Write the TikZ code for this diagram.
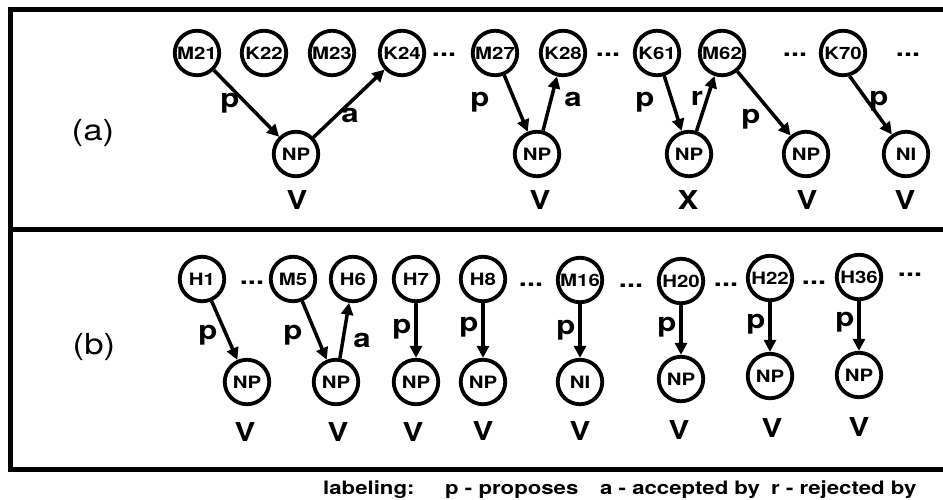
\documentclass[tikz,border=0pt]{standalone}
\usepackage{fontspec}
\setmainfont{TeX Gyre Heros}[FakeStretch=1.2]
\usetikzlibrary{arrows.meta}
\tikzset{
  circ/.style={circle, draw, line width=3.8pt, minimum size=44.5pt, inner sep=0pt,
    font=\fontsize{17}{20}\selectfont\bfseries},
  arr/.style={line width=3.5pt, -{Triangle[length=12pt,width=12pt]}},
  lab/.style={font=\fontsize{26}{30}\selectfont\bfseries, inner sep=0pt},
  dotsn/.style={font=\fontsize{24}{28}\selectfont\bfseries, inner sep=0pt},
  panel/.style={font=\fontsize{29}{34}\selectfont, inner sep=0pt},
  legend/.style={font=\fontsize{18.5}{22}\selectfont\bfseries, inner sep=0pt, anchor=base west},
  frame/.style={line width=4.5pt, line join=miter}
}
\begin{document}
\begin{tikzpicture}[x=1pt,y=-1pt]
\useasboundingbox (0,0) rectangle (943,499);
% frame
\draw[frame] (943,9.5) -- (10.5,9.5) -- (10.5,469.5) -- (943,469.5);
\draw[line width=5.5pt] (10.5,229.5) -- (943,229.5);
% panel labels
\node[panel] (pa) at (93,133) {(a)};
\node[panel] (pb) at (94,347) {(b)};
% ---- panel (a) top row
\node[circ] (M21) at (197,53) {M21};
\node[circ] (K22) at (264,53) {K22};
\node[circ] (M23) at (332,53) {M23};
\node[circ] (K24) at (402,53) {K24};
\node[dotsn] (da1) at (444,55) {...};
\node[circ] (M27) at (495,53) {M27};
\node[circ] (K28) at (563,53) {K28};
\node[dotsn] (da2) at (608,55) {...};
\node[circ] (K61) at (657,53) {K61};
\node[circ] (M62) at (722,53) {M62};
\node[dotsn] (da3) at (795,55) {...};
\node[circ] (K70) at (843,53) {K70};
\node[dotsn] (da4) at (908,55) {...};
% panel (a) bottom row
\node[circ] (NA1) at (296,154) {NP};
\node[circ] (NA2) at (537,154) {NP};
\node[circ] (NA3) at (689,154) {NP};
\node[circ] (NA4) at (806,154) {NP};
\node[circ] (NA5) at (906,154) {NI};
% panel (a) arrows
\draw[arr] (M21) -- (NA1);
\draw[arr] (NA1) -- (K24);
\draw[arr] (M27) -- (NA2);
\draw[arr] (NA2) -- (K28);
\draw[arr] (K61) -- (NA3);
\draw[arr] (NA3) -- (M62);
\draw[arr] (M62) -- (NA4);
\draw[arr] (K70.-74) -- (NA5);
% panel (a) edge labels
\node[lab] (la1) at (230,103) {p};
\node[lab] (la2) at (350,115) {a};
\node[lab] (la3) at (480,102) {p};
\node[lab] (la4) at (573,99) {a};
\node[lab] (la5) at (645,102) {p};
\node[lab] (la6) at (697,98) {r};
\node[lab] (la7) at (751,119) {p};
\node[lab] (la8) at (879,101) {p};
% panel (a) verdicts
\node[lab] (va1) at (297,200) {V};
\node[lab] (va2) at (540,200) {V};
\node[lab] (va3) at (688,200) {X};
\node[lab] (va4) at (807,200) {V};
\node[lab] (va5) at (905,200) {V};
% ---- panel (b) top row
\node[circ] (H1) at (202,279) {H1};
\node[dotsn] (db1) at (252,283) {...};
\node[circ] (M5) at (293,279) {M5};
\node[circ] (H6) at (353,279) {H6};
\node[circ] (H7) at (416,279) {H7};
\node[circ] (H8) at (483,279) {H8};
\node[dotsn] (db2) at (531,285) {...};
\node[circ] (M16) at (580,280) {M16};
\node[dotsn] (db3) at (631,286) {...};
\node[circ] (H20) at (681,281) {H20};
\node[dotsn] (db4) at (726,285) {...};
\node[circ] (H22) at (770,278) {H22};
\node[dotsn] (db5) at (814,283) {...};
\node[circ] (H36) at (859,277) {H36};
\node[dotsn] (db6) at (910,275) {...};
% panel (b) bottom row
\node[circ] (NB1) at (247,382) {NP};
\node[circ] (NB2) at (336,382) {NP};
\node[circ] (NB3) at (416,382) {NP};
\node[circ] (NB4) at (483,382) {NP};
\node[circ] (NB5) at (580,382) {NI};
\node[circ] (NB6) at (681,379) {NP};
\node[circ] (NB7) at (770,376) {NP};
\node[circ] (NB8) at (859,375) {NP};
% panel (b) arrows
\draw[arr] (H1) -- (NB1);
\draw[arr] (M5) -- (NB2);
\draw[arr] (NB2) -- (H6);
\draw[arr] (H7) -- (NB3);
\draw[arr] (H8) -- (NB4);
\draw[arr] (M16) -- (NB5);
\draw[arr] (H20) -- (NB6);
\draw[arr] (H22) -- (NB7);
\draw[arr] (H36) -- (NB8);
% panel (b) edge labels
\node[lab] (lb1) at (208,335) {p};
\node[lab] (lb2) at (293,335) {p};
\node[lab] (lb3) at (362,340) {a};
\node[lab] (lb4) at (402,329) {p};
\node[lab] (lb5) at (469,327) {p};
\node[lab] (lb6) at (566,330) {p};
\node[lab] (lb7) at (667,327) {p};
\node[lab] (lb8) at (756,324) {p};
\node[lab] (lb9) at (845,322) {p};
% panel (b) verdicts
\node[lab] (vb1) at (245,432) {V};
\node[lab] (vb2) at (338,432) {V};
\node[lab] (vb3) at (413,432) {V};
\node[lab] (vb4) at (483,431) {V};
\node[lab] (vb5) at (580,431) {V};
\node[lab] (vb6) at (679,430) {V};
\node[lab] (vb7) at (772,428) {V};
\node[lab] (vb8) at (859,427) {V};
% legend
\node[legend] (lg0) at (323,494) {labeling:};
\node[legend] (lg1) at (445,494) {p - proposes};
\node[legend] (lg2) at (600,494) {a - accepted by};
\node[legend] (lg3) at (771,494) {r - rejected by};
\end{tikzpicture}
\end{document}
